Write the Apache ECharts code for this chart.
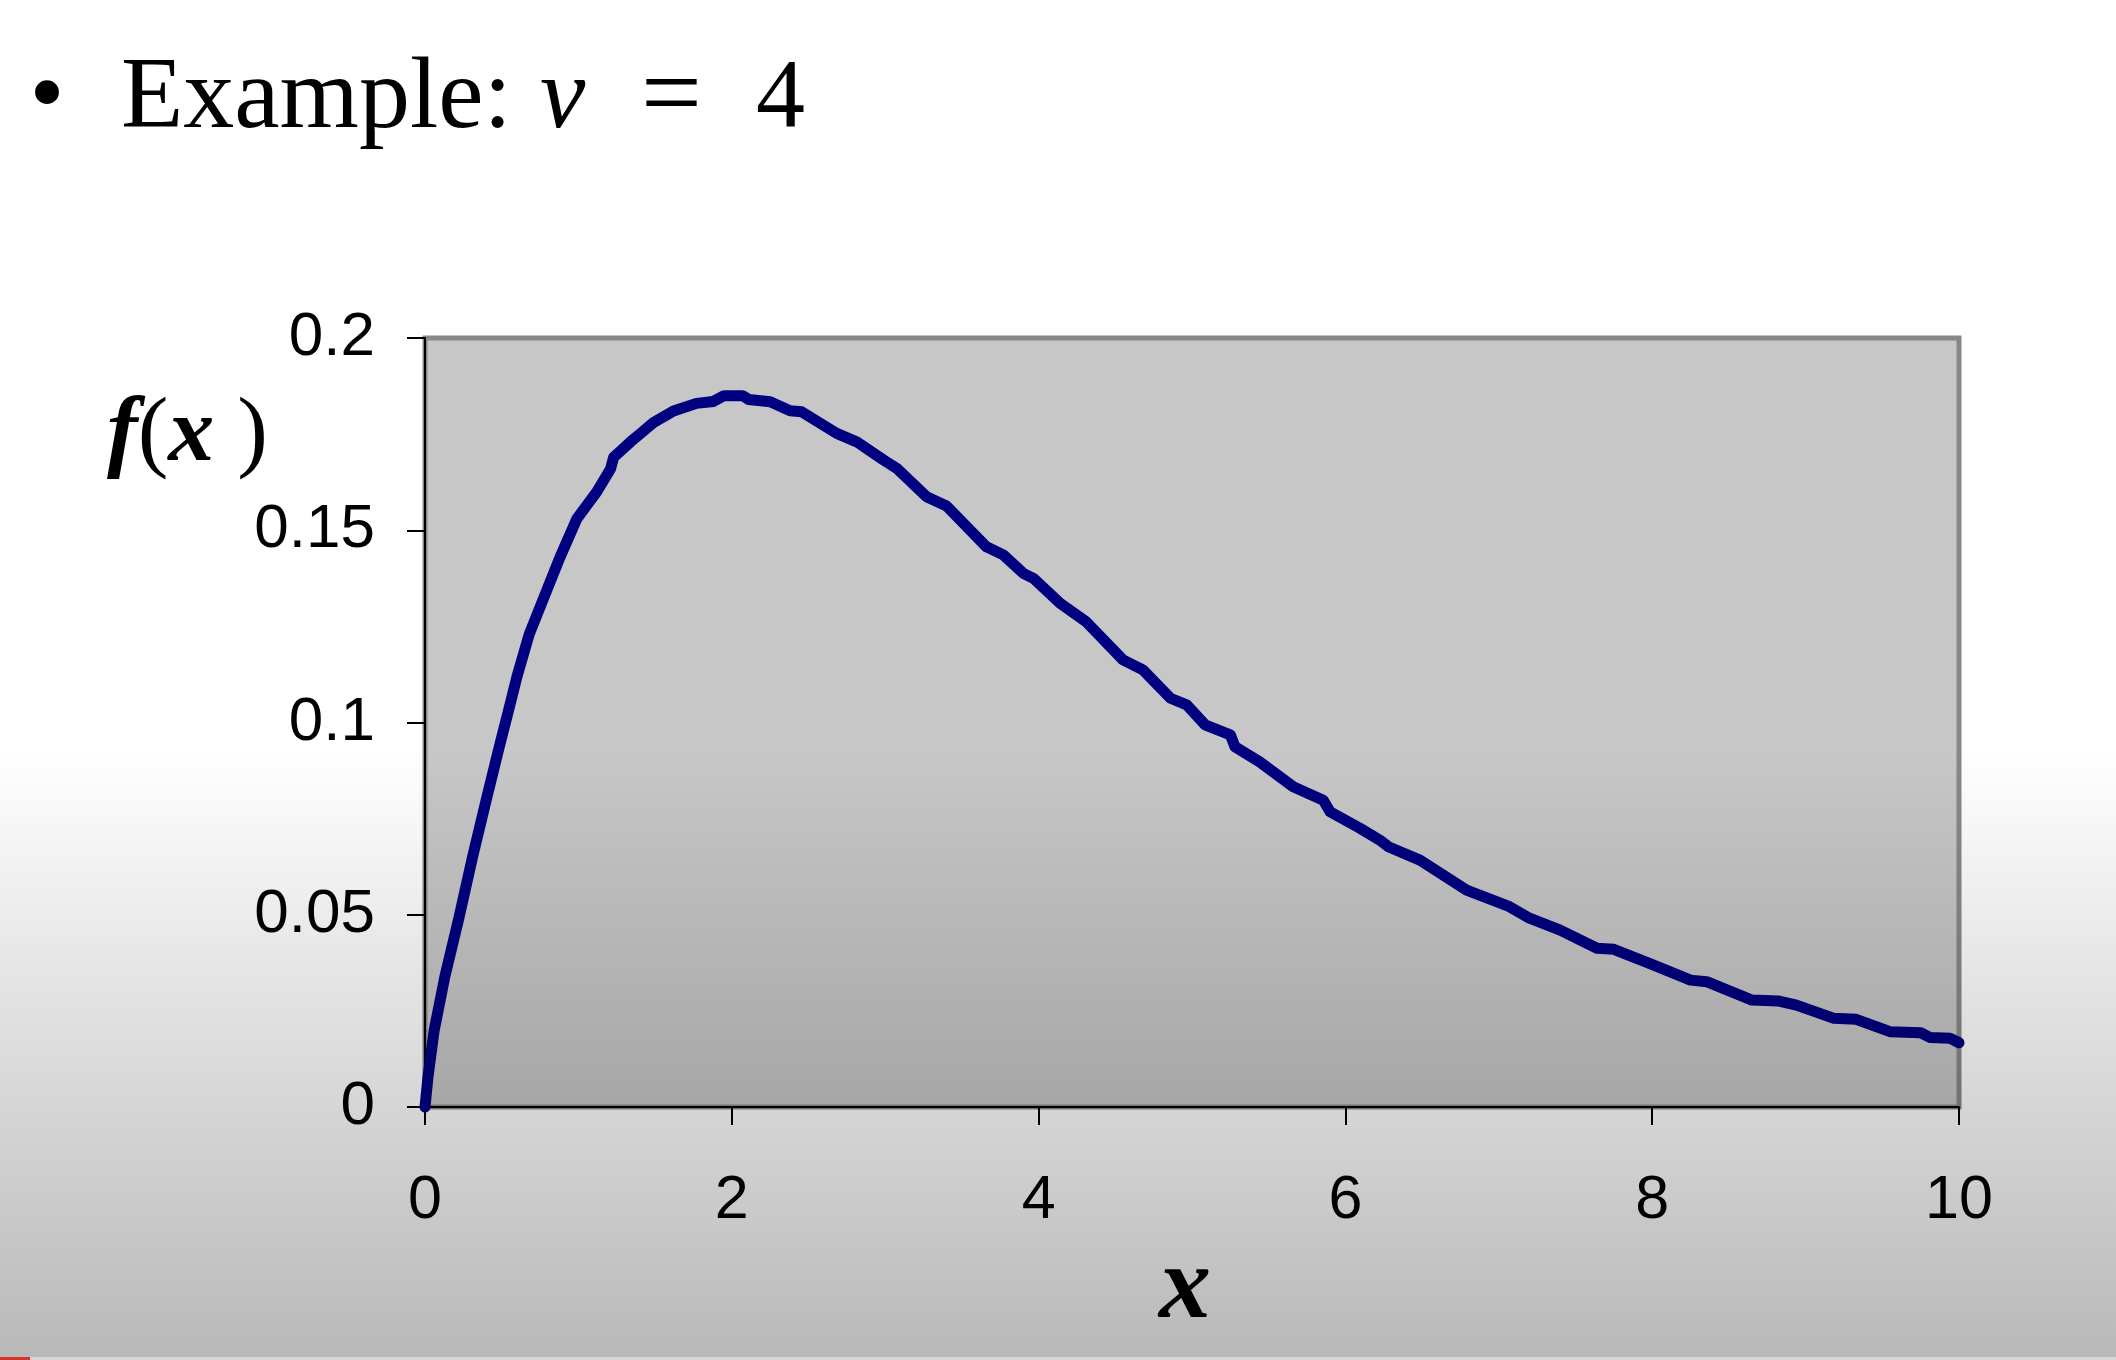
<!DOCTYPE html>
<html>
<head>
<meta charset="utf-8">
<script src="https://cdn.jsdelivr.net/npm/echarts@6/dist/echarts.min.js"></script>
<style>
  html, body { margin: 0; padding: 0; background: #ffffff; }
  #chart { width: 2116px; height: 1360px; }
</style>
</head>
<body>
<div id="chart"></div>
<script>
// ---- Data (chi-square density, v = 4) ----
const xValues = [0, 0.02, 0.06, 0.13, 0.22, 0.31, 0.40, 0.48, 0.55, 0.60, 0.68, 0.79, 0.88, 0.99,
  1.12, 1.21, 1.23, 1.34, 1.40, 1.49, 1.62, 1.77, 1.88, 1.95, 2.07, 2.11, 2.25, 2.38, 2.456, 2.684, 2.814, 2.988, 3.075, 3.27,
  3.40, 3.66, 3.77, 3.90, 3.966, 4.14, 4.31, 4.55, 4.68, 4.86, 4.965, 5.085, 5.25, 5.28, 5.44, 5.66, 5.856, 5.90, 6.095, 6.225,
  6.28, 6.486, 6.79, 7.07, 7.20, 7.40, 7.64, 7.75, 8.01, 8.25, 8.355, 8.65, 8.82, 8.94, 9.18, 9.33, 9.55, 9.75, 9.81, 9.94, 10.0];
const fValues = [0, 0.008, 0.020, 0.034, 0.049, 0.065, 0.080, 0.093, 0.104, 0.112, 0.123, 0.134, 0.143, 0.153,
  0.160, 0.166, 0.169, 0.173, 0.175, 0.178, 0.181, 0.183, 0.1835, 0.185, 0.185, 0.1840, 0.1834, 0.1811, 0.1808, 0.1752, 0.1730, 0.1683, 0.1661, 0.1587,
  0.1563, 0.1457, 0.1436, 0.1388, 0.1375, 0.1310, 0.1262, 0.1163, 0.1137, 0.1063, 0.1046, 0.0994, 0.0968, 0.0937, 0.0898, 0.0833, 0.0798, 0.0768, 0.0725, 0.0694,
  0.0677, 0.0642, 0.0564, 0.0521, 0.0491, 0.0460, 0.0413, 0.0410, 0.0369, 0.0330, 0.0326, 0.0278, 0.0276, 0.0265, 0.0231, 0.0228, 0.0196, 0.0193, 0.0181, 0.0179, 0.0167];
const xTickLabels = ['0', '2', '4', '6', '8', '10'];
const yTickLabels = ['0', '0.05', '0.1', '0.15', '0.2'];
const titleParts = ['•', 'Example:', 'v', '=', '4'];
const xAxisTitle = 'x';

const seriesData = xValues.map((x, i) => [x, fValues[i]]);

const chart = echarts.init(document.getElementById('chart'), null, { renderer: 'canvas' });
const W = 2116, H = 1360;
const serif = '"Liberation Serif", "Times New Roman", serif';
const sans = '"Liberation Sans", Arial, sans-serif';

chart.setOption({
  animation: false,
  backgroundColor: '#ffffff',
  grid: {
    left: 425, top: 338, right: 157, bottom: 253,
    containLabel: false,
    show: true,
    backgroundColor: '#c7c7c7',
    borderColor: '#888888',
    borderWidth: 5
  },
  xAxis: {
    type: 'value', min: 0, max: 10, interval: 2,
    axisLine: { show: true, onZero: false, lineStyle: { color: '#000', width: 2 } },
    axisTick: { show: true, inside: false, length: 18, lineStyle: { color: '#000', width: 2 } },
    axisLabel: {
      show: true, margin: 64, color: '#000', fontSize: 61, fontFamily: sans,
      formatter: v => xTickLabels[Math.round(v / 2)]
    },
    splitLine: { show: false }
  },
  yAxis: {
    type: 'value', min: 0, max: 0.2, interval: 0.05,
    axisLine: { show: true, onZero: false, lineStyle: { color: '#000', width: 2 } },
    axisTick: { show: true, inside: false, length: 18, lineStyle: { color: '#000', width: 2 } },
    axisLabel: {
      show: true, margin: 50, color: '#000', fontSize: 62, fontFamily: sans,
      formatter: v => yTickLabels[Math.round(v / 0.05)]
    },
    splitLine: { show: false }
  },
  series: [{
    type: 'line',
    data: seriesData,
    showSymbol: false,
    smooth: false,
    clip: false,
    lineStyle: { color: '#000080', width: 11, cap: 'round', join: 'round' }
  }],
  graphic: [
    { type: 'text', x: 47, y: 99, silent: true,
      style: { text: titleParts[0], font: '100px ' + serif, fill: '#000', align: 'center', verticalAlign: 'middle' } },
    { type: 'text', x: 121, y: 100, silent: true,
      style: { text: titleParts[1], font: '102px ' + serif, fill: '#000', align: 'left', verticalAlign: 'middle' } },
    { type: 'text', x: 540, y: 100, silent: true,
      style: { text: titleParts[2], font: 'italic 102px ' + serif, fill: '#000', align: 'left', verticalAlign: 'middle' } },
    { type: 'text', x: 641, y: 100, silent: true,
      style: { text: titleParts[3], font: '108px ' + serif, fill: '#000', align: 'left', verticalAlign: 'middle' } },
    { type: 'text', x: 756, y: 100, silent: true,
      style: { text: titleParts[4], font: '98px ' + serif, fill: '#000', align: 'left', verticalAlign: 'middle' } },
    { type: 'text', x: 107, y: 436, silent: true,
      style: {
        text: '{fx|f}{p|(}{fx|x} {p|)}',
        align: 'left', verticalAlign: 'middle',
        rich: {
          fx: { font: 'italic bold 92px ' + serif, fill: '#000' },
          p: { font: '92px ' + serif, fill: '#000' }
        },
        font: '92px ' + serif, fill: '#000'
      } },
    { type: 'text', x: 1185, y: 1290, silent: true,
      style: { text: xAxisTitle, font: 'italic bold 104px ' + serif, fill: '#000', align: 'center', verticalAlign: 'middle' } },
    { type: 'rect', silent: true, z: 100,
      shape: { x: 0, y: 0, width: W, height: H },
      style: { fill: { type: 'linear', x: 0, y: 0, x2: 0, y2: 1, global: false,
        colorStops: [
          { offset: 0, color: 'rgba(0,0,0,0)' },
          { offset: 0.55, color: 'rgba(0,0,0,0)' },
          { offset: 1, color: 'rgba(0,0,0,0.28)' }
        ] } } },
    { type: 'rect', silent: true, z: 101,
      shape: { x: 0, y: 1357, width: W, height: 3 },
      style: { fill: '#d6d6d6' } },
    { type: 'rect', silent: true, z: 102,
      shape: { x: 0, y: 1357, width: 30, height: 3 },
      style: { fill: '#d2352b' } }
  ]
});
</script>
</body>
</html>
